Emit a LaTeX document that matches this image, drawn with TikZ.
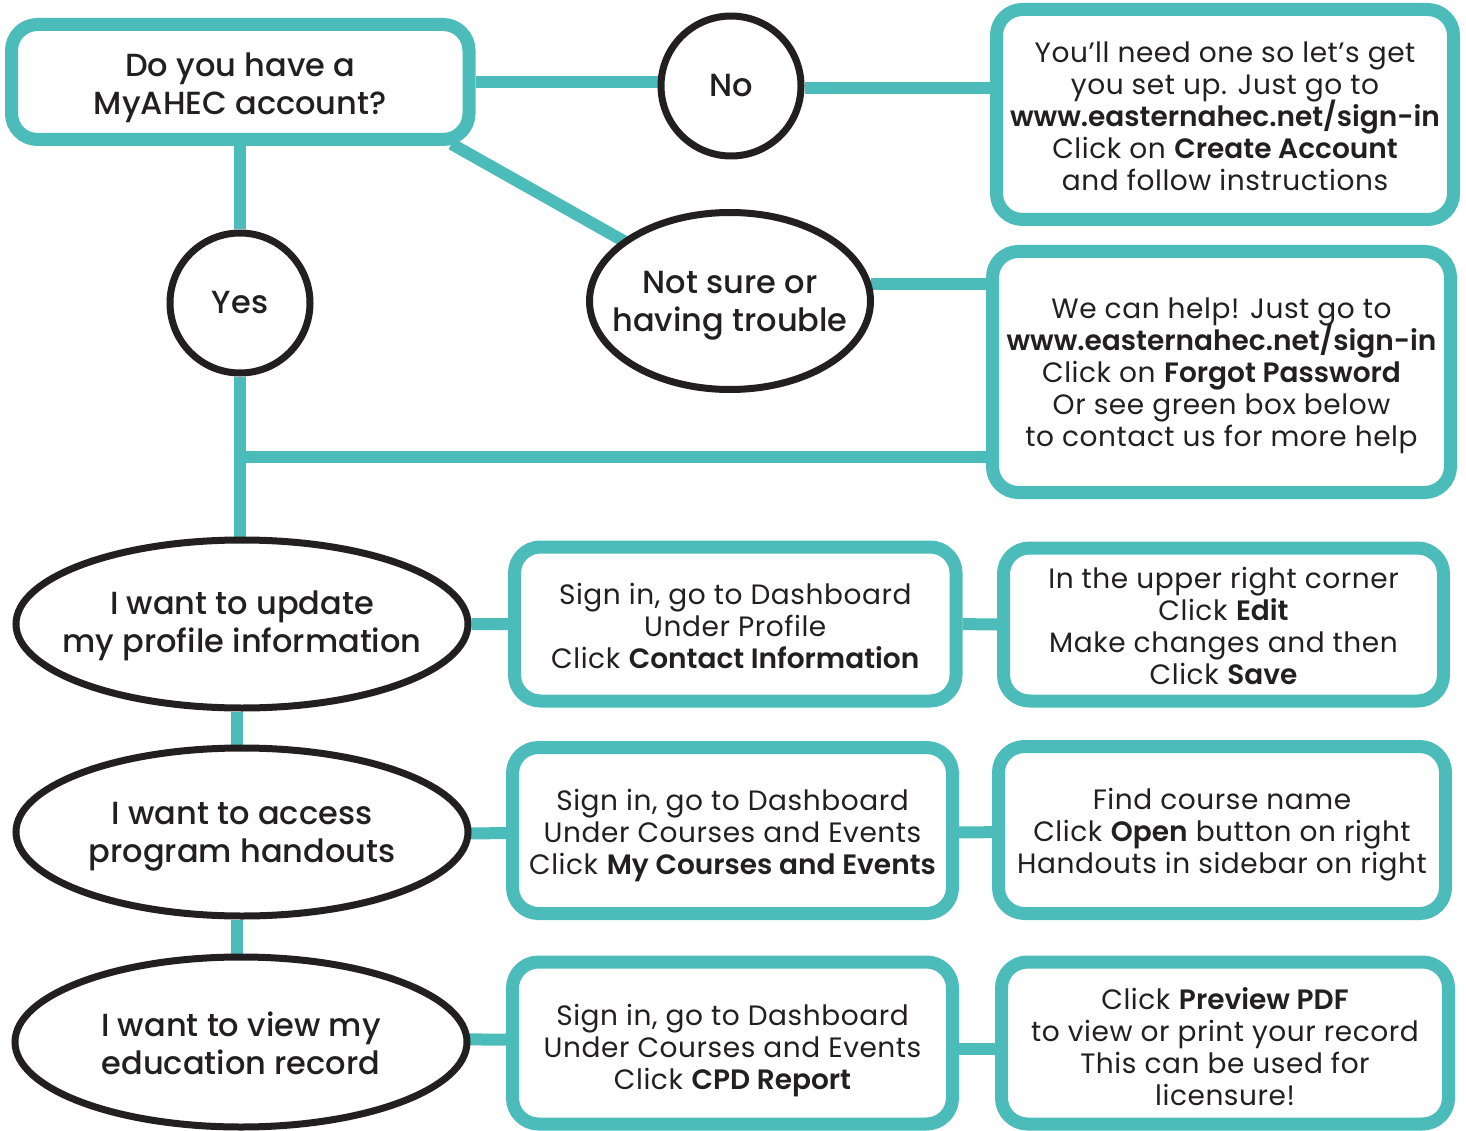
\documentclass[tikz,border=0pt]{standalone}
\usepackage{fontspec}
\setmainfont{Poppins}[BoldFont={* SemiBold},UprightFeatures={LetterSpace=2}]
\newfontfamily\headfont{Poppins}[UprightFont={* Medium}]
\usetikzlibrary{shapes.geometric,backgrounds,calc}
\definecolor{tealc}{HTML}{4BBCB9}
\definecolor{ink}{HTML}{231F20}
\newcommand{\bodyf}{\fontsize{28}{32}\selectfont\lineskiplimit=-100pt\lineskip=0pt}
\newcommand{\headf}{\headfont\fontsize{32}{38}\selectfont\lineskiplimit=-100pt\lineskip=0pt}
% centred lines, lowered by #1 without changing the box that the node sees
\newcommand{\txt}[2]{\raisebox{-#1}[\height][\depth]{\vbox{\halign{\hfil##\hfil\cr #2\crcr}}}}
\begin{document}
\begin{tikzpicture}[x=1pt,y=-1pt,
  tbox/.style={draw=tealc, line width=13pt, rounded corners=26pt, fill=white,
    text=ink, font=\bodyf, inner sep=0pt},
  oval/.style={ellipse, draw=ink, line width=7pt, fill=white, inner sep=0pt},
  circ/.style={circle, draw=ink, line width=7pt, fill=white, inner sep=0pt,
    minimum size=140pt, text=ink, font=\headf},
  headtxt/.style={align=center, font=\headf, text=ink},
  conn/.style={draw=tealc, line width=12pt}]
\useasboundingbox (0,0) rectangle (1466,1131);

% boxes
\node[tbox, minimum width=457.5pt, minimum height=115pt, font=\headf] (q) at (240.25,82)
  {\txt{6pt}{Do you have a\cr MyAHEC account?}};
\node[tbox, minimum width=457pt, minimum height=210pt] (setup) at (1225,114.5)
  {\txt{2pt}{You’ll need one so let’s get\cr you set up. Just go to\cr \textbf{www.easternahec.net/sign-in}\cr Click on \textbf{Create Account}\cr and follow instructions}};
\node[tbox, minimum width=458pt, minimum height=241pt] (help) at (1221.5,372)
  {\txt{4pt}{We can help! Just go to\cr \textbf{www.easternahec.net/sign-in}\cr Click on \textbf{Forgot Password}\cr Or see green box below\cr to contact us for more help}};

\node[circ] (no) at (731,86) {No};
\node[circ] (yes) at (240,303) {Yes};
\node[oval, minimum width=281pt, minimum height=177pt,
  label={[headtxt, name=unsuret, yshift=-5pt]center:Not sure or\\having trouble}] (unsure) at (730,301) {};

\node[oval, minimum width=452pt, minimum height=168pt,
  label={[headtxt, name=w1t, yshift=-2pt]center:I want to update\\my profile information}] (w1) at (242,624) {};
\node[oval, minimum width=452pt, minimum height=168pt,
  label={[headtxt, name=w2t, yshift=-5pt]center:I want to access\\program handouts}] (w2) at (242,832) {};
\node[oval, minimum width=452pt, minimum height=170pt,
  label={[headtxt, name=w3t, yshift=-1pt]center:I want to view my\\education record}] (w3) at (241,1042) {};

\node[tbox, minimum width=441.5pt, minimum height=154pt] (a) at (735.25,624)
  {\txt{2pt}{Sign in, go to Dashboard\cr Under Profile\cr Click \textbf{Contact Information}}};
\node[tbox, minimum width=440pt, minimum height=166pt] (b) at (732.5,830.5)
  {\txt{5pt}{Sign in, go to Dashboard\cr Under Courses and Events\cr Click \textbf{My Courses and Events}}};
\node[tbox, minimum width=440pt, minimum height=162pt] (c) at (732.5,1043)
  {\txt{8pt}{Sign in, go to Dashboard\cr Under Courses and Events\cr Click \textbf{CPD Report}}};
\node[tbox, minimum width=440pt, minimum height=153pt] (d) at (1223.5,624.5)
  {\txt{1pt}{In the upper right corner\cr Click \textbf{Edit}\cr Make changes and then\cr Click \textbf{Save}}};
\node[tbox, minimum width=447pt, minimum height=167pt] (e) at (1222,830)
  {\txt{5pt}{Find course name\cr Click \textbf{Open} button on right\cr Handouts in sidebar on right}};
\node[tbox, minimum width=447pt, minimum height=162pt] (f) at (1225,1043)
  {\txt{4pt}{Click \textbf{Preview PDF}\cr to view or print your record\cr This can be used for\cr licensure!}};

\coordinate (j) at (240,457);

\begin{scope}[on background layer]
  \fill[white] (0,0) rectangle (1466,1131);
  \draw[conn] (q.east) -- (no.west |- q.east);
  \draw[conn] ([yshift=-2pt]no.east) -- ([yshift=-2pt]setup.west |- no.east);
  \draw[conn] ($(q.south east)+(-24,-2)$) -- (unsure.center);
  \draw[conn] (unsure.7) -- (help.west |- unsure.7);
  \draw[conn] (q.south -| yes) -- (yes.north);
  \draw[conn] (yes.south) -- (yes.south |- w1.north);
  \draw[conn] (j) -- (help.west |- j);
  \draw[conn] (w1.south -| 237,0) -- (w2.north -| 237,0);
  \draw[conn] (w2.south -| 237,0) -- (w3.north -| 237,0);
  \draw[conn] (w1) -- (a) -- (d);
  \draw[conn] ([yshift=-2pt]w2.center) -- ([yshift=-2pt]b.center) -- ([yshift=-2pt]e.center);
  \draw[conn] ([yshift=3pt]w3.center) -- ([yshift=3pt]c.center);
  \draw[conn] ([yshift=-6pt]c.center) -- ([yshift=-6pt]f.center);
\end{scope}
\end{tikzpicture}
\end{document}
